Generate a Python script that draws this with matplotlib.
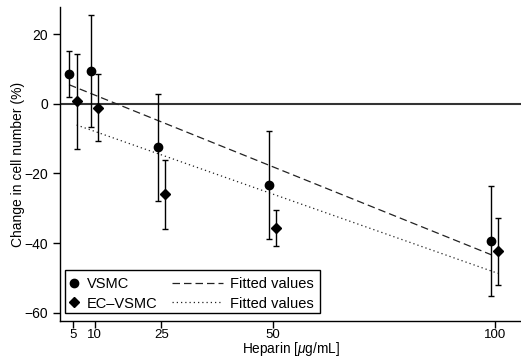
import numpy as np
import matplotlib
matplotlib.use("Agg")
import matplotlib.pyplot as plt
from matplotlib.patches import Rectangle

plt.rcParams['font.family'] = ['Liberation Sans', 'DejaVu Sans']
plt.rcParams['mathtext.fontset'] = 'custom'
plt.rcParams['mathtext.rm'] = 'Liberation Sans'
plt.rcParams['mathtext.it'] = 'Liberation Sans:italic'

# Data (x positions slightly jittered as in the original)
vsmc_x = [4.2, 9.2, 24.2, 49.2, 99.2]
vsmc_y = [8.4, 9.3, -12.5, -23.3, -39.4]
vsmc_lo = [1.8, -6.7, -27.8, -38.8, -55.1]
vsmc_hi = [15.1, 25.4, 2.8, -7.9, -23.6]

ec_x = [5.9, 10.8, 25.7, 50.8, 100.7]
ec_y = [0.7, -1.1, -26.0, -35.7, -42.3]
ec_lo = [-13.0, -10.8, -36.0, -40.7, -52.0]
ec_hi = [14.3, 8.6, -16.1, -30.4, -32.8]

xticks = [5, 10, 25, 50, 100]
yticks = [20, 0, -20, -40, -60]
labels_series = ['VSMC', 'EC\u2013VSMC']
labels_fit = ['Fitted values', 'Fitted values']

fig = plt.figure(figsize=(5.21, 3.6), dpi=100)
ax = fig.add_axes([0.1155, 0.108, 0.8845, 0.873])

ax.axhline(0, color='#333333', lw=1.5, zorder=1)

vx = np.array(vsmc_x); vy = np.array(vsmc_y)
ex = np.array(ec_x); ey = np.array(ec_y)

# fitted values (linear regression)
pv = np.polyfit(vx, vy, 1)
pe = np.polyfit(ex, ey, 1)
ln1, = ax.plot(vx, np.polyval(pv, vx), color='#222222', lw=0.9, dashes=(6, 3.2))
ln2, = ax.plot(ex, np.polyval(pe, ex), color='#222222', lw=0.9, dashes=(1, 2.4))

verr = [vy - np.array(vsmc_lo), np.array(vsmc_hi) - vy]
eerr = [ey - np.array(ec_lo), np.array(ec_hi) - ey]
ax.errorbar(vx, vy, yerr=verr, fmt='none', ecolor='black', elinewidth=1.0, capsize=2.5, capthick=1.0)
ax.errorbar(ex, ey, yerr=eerr, fmt='none', ecolor='black', elinewidth=1.0, capsize=2.5, capthick=1.0)
m1, = ax.plot(vx, vy, 'o', color='black', ms=6.0, ls='none', zorder=5)
m2, = ax.plot(ex, ey, 'D', color='black', ms=5.4, ls='none', zorder=5)

ax.set_xlim(2.2, 105.9)
ax.set_ylim(-62.4, 27.8)
ax.set_xticks(xticks)
ax.set_yticks(yticks)
ax.set_yticklabels([str(t).replace('-', '\u2212') for t in yticks])
ax.tick_params(direction='out', length=5, width=1, labelsize=10, colors='black')
ax.tick_params(axis='x', pad=1, labelsize=9.5)
for s in ['top', 'right']:
    ax.spines[s].set_visible(False)
for s in ['left', 'bottom']:
    ax.spines[s].set_linewidth(1.0)

ax.set_xlabel(r'Heparin [$\mathit{\mu}$g/mL]', fontsize=9.8, labelpad=-1)
ax.set_ylabel('Change in cell number (%)', fontsize=10, labelpad=-0.5)

# legend: framed box with two columns
rect = Rectangle((0.0103, 0.025), 0.5534, 0.1364, transform=ax.transAxes,
                 facecolor='white', edgecolor='black', lw=1.0, zorder=6)
ax.add_patch(rect)
legA = ax.legend([m1, m2], labels_series, loc='center left', bbox_to_anchor=(0.0146, 0.0862),
                 frameon=False, fontsize=10.5, handlelength=1.0, handletextpad=0.35,
                 borderpad=0, borderaxespad=0, labelspacing=0.35)
legA.set_zorder(7)
ax.add_artist(legA)
legB = ax.legend([ln1, ln2], labels_fit, loc='center left', bbox_to_anchor=(0.2418, 0.0862),
                 frameon=False, fontsize=10.5, handlelength=3.5, handletextpad=0.5,
                 borderpad=0, borderaxespad=0, labelspacing=0.35)
legB.set_zorder(7)

fig.savefig('out.png', dpi=100)
